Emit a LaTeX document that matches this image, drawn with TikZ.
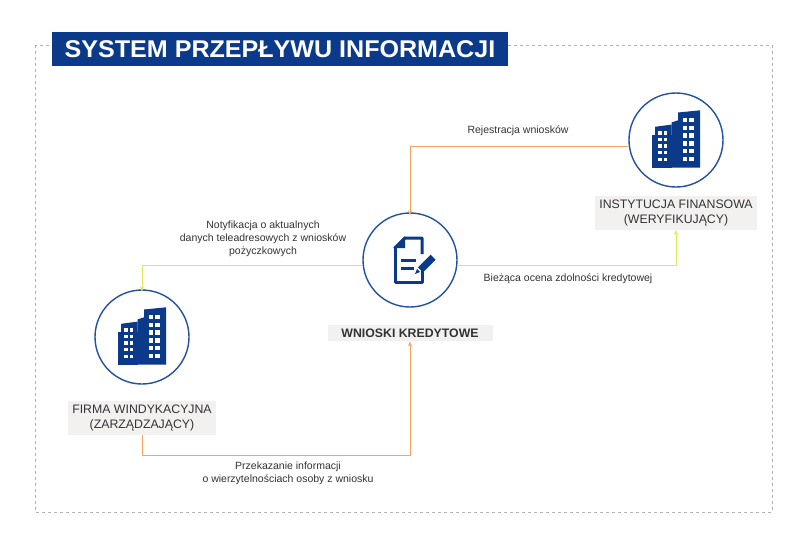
\documentclass[tikz,border=0pt]{standalone}
\usepackage{fontspec}
\setmainfont{Liberation Sans}
\usetikzlibrary{arrows.meta, positioning}
\definecolor{navy}{HTML}{0B3A8A}
\definecolor{ring}{HTML}{2452A0}
\definecolor{flowA}{HTML}{F7A25E}
\definecolor{flowB}{HTML}{DCE75A}
\definecolor{tag}{HTML}{F3F0F0}
\tikzset{
    hub/.style={draw=ring, line width=1.4pt, circle, minimum size=94pt, inner sep=0pt},
    tagbox/.style={fill=tag, font=\fontsize{12.3}{14.5}\selectfont, align=center, inner sep=4pt, text=black!80},
    note/.style={font=\fontsize{10.5}{13}\selectfont, align=center, text=black!80},
    flow/.style={line width=0.9pt, -{Stealth[length=5pt,width=4pt]}}
}
\newcommand{\tower}[1]{%
    \begin{scope}[shift={(#1)}, scale=1.1]
    \fill[navy] (-22,-5) rectangle (-4,25);
    \fill[navy] (-19,-12) -- (-4,-14) -- (-4,25) -- (-19,25) -- cycle;
    \fill[navy] (2,-25) -- (22,-27) -- (22,25) -- (2,25) -- cycle;
    \fill[navy] (-4,25) -- (2,25) -- (2,-18) -- (-4,-16) -- cycle;
    \foreach \i in {0,...,4}{\fill[white] (-16,-8+\i*6) rectangle (-13,-5+\i*6);
        \fill[white] (-11,-8+\i*6) rectangle (-8,-5+\i*6);}
    \foreach \i in {0,...,5}{\fill[white] (6,-20+\i*7) rectangle (10,-16+\i*7);
        \fill[white] (12,-20+\i*7) rectangle (16,-16+\i*7);}
    \end{scope}}
\begin{document}
\begin{tikzpicture}[x=1pt,y=-1pt]
    \useasboundingbox[fill=white] (0,0) rectangle (808,546);
    \draw[gray!60, dashed, line width=0.7pt] (35,45) rectangle (772,512);
    \node[fill=navy, minimum width=456pt, minimum height=34pt, inner sep=0pt] (title) at (280,49) {};
    \node[text=white, font=\bfseries\fontsize{22}{24}\selectfont, xscale=1.14, yscale=1.1] (titleText) at (280,49) {SYSTEM PRZEPŁYWU INFORMACJI};
    % hubs
    \node[hub] (apps) at (410,260) {};
    \node[hub] (bank) at (676,140) {};
    \node[hub] (firm) at (142,337) {};
    \node[tagbox, font=\bfseries\fontsize{12.3}{14.5}\selectfont, minimum width=165pt] (appsTag) at (410,333) {WNIOSKI KREDYTOWE};
    \node[tagbox] (bankTag) at (676,213) {INSTYTUCJA FINANSOWA\\(WERYFIKUJĄCY)};
    \node[tagbox] (firmTag) at (142,418) {FIRMA WINDYKACYJNA\\(ZARZĄDZAJĄCY)};
    % icons
    \tower{676,140}
    \tower{142,337}
    \begin{scope}[shift={(410,260)}]
    \draw[navy, line width=3pt, line join=round] (-15,-12) -- (-5,-22) -- (12,-22) -- (12,-6);
    \draw[navy, line width=3pt, line join=round] (12,10) -- (12,22) -- (-15,22) -- (-15,-12);
    \fill[navy] (-17,-12) -- (-5,-24) -- (-5,-12) -- cycle;
    \draw[navy, line width=3pt] (-9,0) -- (6,0) (-9,8) -- (4,8);
    \fill[navy, rotate around={45:(15,6)}] (9,2) rectangle (27,9);
    \fill[navy] (5,14) -- (7,9) -- (10,12) -- cycle;
    \end{scope}
    % connectors
    \coordinate (k1) at (410,146);
    \coordinate (k2) at (142,265);
    \coordinate (k3) at (676,265);
    \coordinate (k4) at (142,455);
    \coordinate (k5) at (410,455);
    \draw[flow, flowA] (bank.west |- k1) -- (k1) -- ([yshift=-3pt]apps.north);
    \draw[flow, flowB] (apps.west |- k2) -- (k2) -- ([yshift=-2pt]firm.north);
    \draw[flow, flowB] (apps.east |- k3) -- (k3) -- (bankTag.south);
    \draw[flow, flowA] (firmTag.south) -- (k4) -- (k5) -- (appsTag.south);
    % labels
    \node[note] (n1) at (518,131) {Rejestracja wniosków};
    \node[note] (n2) at (263,239) {Notyfikacja o aktualnych\\danych teleadresowych z wniosków\\pożyczkowych};
    \node[note] (n3) at (568,279) {Bieżąca ocena zdolności kredytowej};
    \node[note] (n4) at (288,473) {Przekazanie informacji\\o wierzytelnościach osoby z wniosku};
\end{tikzpicture}
\end{document}
